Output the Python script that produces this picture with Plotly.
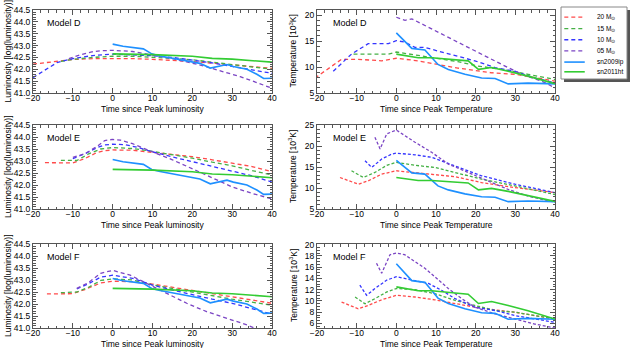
import plotly.graph_objects as go

# observed curves (same in every panel)
t_lum_09ip = [0, 2.6, 7.7, 9.8, 11.9, 16.1, 18.6, 21.9, 24.5, 26.1, 28.7, 30.3, 33.7, 36.2, 37.9, 40]
lum_09ip = [43.06, 42.97, 42.86, 42.65, 42.56, 42.44, 42.37, 42.25, 42.05, 42.1, 42.2, 42.12, 42.0, 41.79, 41.61, 41.62]
t_lum_11ht = [0, 10, 20, 25, 30, 35, 40]
lum_11ht = [42.65, 42.62, 42.55, 42.46, 42.43, 42.35, 42.3]

t_tem_09ip = [0, 3.9, 7.2, 8.9, 10.5, 13.1, 17.3, 21.5, 24.9, 28.2, 33.2, 40]
tem_09ip = [16.6, 13.6, 13.3, 11.8, 10.5, 9.55, 8.6, 7.9, 7.8, 6.75, 6.9, 6.75]
t_tem_11ht = [0, 5.5, 8.9, 13.1, 18.1, 20.7, 24.0, 28.2, 33.2, 40]
tem_11ht = [12.5, 11.8, 11.8, 11.5, 11.2, 9.55, 9.9, 9.2, 8.25, 6.8]

# Model D luminosity
d_lum_20_t = [-20, -15, -10, -5, 0, 5, 10, 15, 20, 25, 30, 35, 40]
d_lum_20 = [42.22, 42.33, 42.41, 42.45, 42.46, 42.45, 42.42, 42.38, 42.33, 42.26, 42.18, 42.11, 42.04]
d_lum_15_t = [-13, -10, -5, 0, 5, 10, 15, 20, 25, 30, 35, 40]
d_lum_15 = [42.33, 42.42, 42.5, 42.55, 42.55, 42.52, 42.46, 42.4, 42.3, 42.2, 42.1, 42.0]
d_lum_10_t = [-20, -17, -14, -10, -5, 0, 5, 10, 15, 20, 25, 30, 35, 40]
d_lum_10 = [41.65, 41.95, 42.28, 42.45, 42.58, 42.64, 42.62, 42.57, 42.5, 42.4, 42.27, 42.12, 41.97, 41.83]
d_lum_05_t = [-11, -8, -5, -3, 0, 5, 10, 15, 22, 27, 32, 36, 40]
d_lum_05 = [42.45, 42.62, 42.74, 42.78, 42.8, 42.75, 42.6, 42.45, 42.18, 41.95, 41.69, 41.45, 41.2]

# Model D temperature
d_tem_20_t = [-20.5, -13.8, -9.6, -3.7, 0, 5.5, 10.5, 15.5, 24, 30, 40]
d_tem_20 = [7.9, 11.5, 11.5, 11.2, 11.7, 11.2, 10.5, 9.8, 8.9, 8.6, 7.3]
d_tem_15_t = [-10.8, -2, 0, 4.7, 8.9, 15.5, 20.6, 26.6, 33.2, 40]
d_tem_15 = [12.5, 12.5, 12.9, 12.3, 11.8, 11.05, 10.2, 9.55, 8.6, 7.6]
d_tem_10_t = [-15.9, -11.3, -7.1, -2, 0, 2.2, 4.7, 7.2, 9.7, 14.8, 19.8, 24.9, 29.9, 34.9, 40]
d_tem_10 = [9.2, 12.5, 14.5, 14.5, 15.1, 14.8, 13.8, 13.8, 13.25, 12.2, 11.2, 9.9, 9.2, 7.9, 6.95]
d_tem_05_t = [0, 2.2, 3.9, 7.2, 11.4, 16.5, 21.5, 26.6, 31.6, 36.6, 40]
d_tem_05 = [19.6, 19.0, 19.3, 18.0, 16.4, 14.4, 12.5, 10.5, 8.6, 7.3, 6.0]

# Model E luminosity
e_lum_20_t = [-17, -14, -10, -7, -4, -2, 0, 5, 10, 15, 20, 25, 30, 35, 40]
e_lum_20 = [42.93, 42.92, 42.92, 43.1, 43.35, 43.43, 43.46, 43.45, 43.37, 43.28, 43.18, 43.05, 42.92, 42.77, 42.56]
e_lum_15_t = [-13, -9, -6, -3, 0, 5, 10, 15, 20, 25, 30, 35, 40]
e_lum_15 = [43.03, 43.02, 43.3, 43.5, 43.56, 43.52, 43.4, 43.27, 43.12, 42.95, 42.8, 42.6, 42.42]
e_lum_10_t = [-10, -7, -4, -2, 0, 3, 6, 10, 15, 20, 25, 30, 35, 40]
e_lum_10 = [43.1, 43.3, 43.55, 43.67, 43.7, 43.68, 43.58, 43.38, 43.17, 42.98, 42.78, 42.6, 42.38, 42.12]
e_lum_05_t = [-10, -7, -4, -2, 0, 2, 5, 8, 10, 15, 20, 25, 30, 35, 40]
e_lum_05 = [43.15, 43.3, 43.6, 43.85, 43.9, 43.87, 43.72, 43.5, 43.38, 43.05, 42.69, 42.3, 41.92, 41.65, 41.42]

# Model E temperature
e_tem_20_t = [-14.2, -9.6, -7.1, -3.7, 0, 4.7, 9.7, 14.8, 21.5, 29.9, 40]
e_tem_20 = [12.5, 10.9, 11.7, 13.3, 14.1, 13.7, 13.3, 12.7, 11.3, 10.1, 8.9]
e_tem_15_t = [-11.3, -8.3, -5.4, -2.4, 0, 4.7, 9.7, 14.8, 21.5, 29.9, 40]
e_tem_15 = [14.1, 12.5, 13.7, 15.4, 16.1, 15.4, 14.9, 13.7, 12.1, 10.5, 8.45]
e_tem_10_t = [-7.9, -6.2, -3.7, -1.1, 0, 4.7, 8.9, 14.8, 21.5, 29.9, 40]
e_tem_10 = [16.5, 14.9, 16.9, 18.1, 18.3, 17.9, 17.3, 15.3, 12.9, 10.9, 8.9]
e_tem_05_t = [-5.4, -4.1, -2.4, 0, 4.7, 8.9, 13.1, 18.1, 23.2, 28.2, 33.3, 38.3, 40]
e_tem_05 = [22.1, 19.3, 22.9, 23.8, 20.9, 18.5, 15.7, 13.7, 11.7, 9.65, 8.05, 6.85, 6.6]

# Model F luminosity
f_lum_20_t = [-16.5, -13, -10, -7, -3, 0, 5, 10, 20, 30, 40]
f_lum_20 = [42.42, 42.42, 42.43, 42.6, 42.88, 42.95, 42.93, 42.83, 42.55, 42.3, 42.03]
f_lum_15_t = [-13, -9, -6, -3, 0, 5, 10, 20, 30, 40]
f_lum_15 = [42.47, 42.5, 42.7, 42.98, 43.05, 43.0, 42.8, 42.49, 42.2, 41.95]
f_lum_10_t = [-9, -6, -3, 0, 5, 10, 15, 20, 25, 30, 35, 40]
f_lum_10 = [42.63, 42.85, 43.12, 43.2, 43.07, 42.79, 42.58, 42.38, 42.2, 42.03, 41.82, 41.58]
f_lum_05_t = [-9, -6, -3, 0, 4.4, 8.5, 13.6, 18.6, 23.6, 28.6, 33.7, 37, 40]
f_lum_05 = [42.65, 42.9, 43.28, 43.4, 43.2, 42.86, 42.45, 42.03, 41.68, 41.4, 41.13, 40.9, 40.75]

# Model F temperature
f_tem_20_t = [-13.8, -9.6, -7.1, -3.7, 0, 4.7, 9.7, 14.8, 19.8, 24.9, 29.9, 34.9, 40]
f_tem_20 = [9.8, 8.6, 9.2, 10.2, 11.0, 10.7, 10.2, 9.5, 8.9, 8.4, 8.0, 7.4, 6.8]
f_tem_15_t = [-10.4, -7.9, -5.4, -2.4, 0, 4.7, 9.7, 14.8, 19.8, 24.9, 29.9, 34.9, 40]
f_tem_15 = [10.7, 9.5, 10.4, 11.6, 12.2, 12.0, 11.3, 10.1, 9.2, 8.3, 8.0, 7.4, 6.8]
f_tem_10_t = [-9.2, -7.5, -5.4, -2.4, 0, 3.9, 8.1, 11.4, 14.8, 19.8, 24.9, 29.9, 34.9, 40]
f_tem_10 = [12.8, 11.0, 12.2, 13.7, 14.3, 13.7, 13.1, 11.9, 10.4, 8.9, 8.3, 7.4, 6.8, 6.2]
f_tem_05_t = [-5.0, -3.7, -1.6, 0, 2.1, 4.7, 7.2, 9.7, 13.1, 16.5, 19.8, 24.9, 29.9, 34.9, 40]
f_tem_05 = [16.7, 14.9, 18.2, 18.5, 18.2, 17.0, 15.8, 14.3, 12.2, 10.4, 8.9, 7.7, 6.8, 5.9, 5.2]

legend_names = ["20 M<sub>⊙</sub>", "15 M<sub>⊙</sub>", "10 M<sub>⊙</sub>", "05 M<sub>⊙</sub>", "sn2009ip", "sn2011ht"]

RED = "#ff4a4a"
GREEN = "#45b045"
BLUE = "#3535ff"
PURPLE = "#7b45c4"
OBS_BLUE = "#1e90ff"
OBS_GREEN = "#33cc33"
model_colors = [RED, GREEN, BLUE, PURPLE]

panels = [
    ("x", "y", [(d_lum_20_t, d_lum_20), (d_lum_15_t, d_lum_15), (d_lum_10_t, d_lum_10), (d_lum_05_t, d_lum_05)], "lum", "4px,3px"),
    ("x2", "y2", [(d_tem_20_t, d_tem_20), (d_tem_15_t, d_tem_15), (d_tem_10_t, d_tem_10), (d_tem_05_t, d_tem_05)], "tem", "4px,3px"),
    ("x3", "y3", [(e_lum_20_t, e_lum_20), (e_lum_15_t, e_lum_15), (e_lum_10_t, e_lum_10), (e_lum_05_t, e_lum_05)], "lum", "4px,3px"),
    ("x4", "y4", [(e_tem_20_t, e_tem_20), (e_tem_15_t, e_tem_15), (e_tem_10_t, e_tem_10), (e_tem_05_t, e_tem_05)], "tem", "3px,2px"),
    ("x5", "y5", [(f_lum_20_t, f_lum_20), (f_lum_15_t, f_lum_15), (f_lum_10_t, f_lum_10), (f_lum_05_t, f_lum_05)], "lum", "4px,3px"),
    ("x6", "y6", [(f_tem_20_t, f_tem_20), (f_tem_15_t, f_tem_15), (f_tem_10_t, f_tem_10), (f_tem_05_t, f_tem_05)], "tem", "3px,2px"),
]

fig = go.Figure()

for xa, ya, models, kind, dash in panels:
    for (t, v), c in zip(models, model_colors):
        fig.add_trace(go.Scatter(x=t, y=v, xaxis=xa, yaxis=ya, mode="lines",
                                 line=dict(color=c, width=1.3, dash=dash), showlegend=False))
    if kind == "lum":
        obs = [(t_lum_09ip, lum_09ip, OBS_BLUE), (t_lum_11ht, lum_11ht, OBS_GREEN)]
    else:
        obs = [(t_tem_09ip, tem_09ip, OBS_BLUE), (t_tem_11ht, tem_11ht, OBS_GREEN)]
    for t, v, c in obs:
        fig.add_trace(go.Scatter(x=t, y=v, xaxis=xa, yaxis=ya, mode="lines",
                                 line=dict(color=c, width=1.6), showlegend=False))

# hand-made legend on its own little axes
leg_y = [0.86, 0.70, 0.545, 0.39, 0.235, 0.10]
leg_styles = [(RED, "4px,3px", 1.3), (GREEN, "4px,3px", 1.3), (BLUE, "4px,3px", 1.3),
              (PURPLE, "4px,3px", 1.3), (OBS_BLUE, "solid", 1.6), (OBS_GREEN, "solid", 1.6)]
for yy, (c, d, w), name in zip(leg_y, leg_styles, legend_names):
    fig.add_trace(go.Scatter(x=[0.05, 0.36], y=[yy, yy], xaxis="x7", yaxis="y7", mode="lines",
                             line=dict(color=c, dash=d, width=w), showlegend=False, hoverinfo="skip"))
    fig.add_annotation(x=0.52, y=yy, xref="x7", yref="y7", text=name, showarrow=False,
                       xanchor="left", yanchor="middle", font=dict(size=6.5, color="black"))

FONT = "Liberation Sans, Arial, sans-serif"

left_dom = [33 / 630, 272 / 630]
right_dom = [317 / 630, 555 / 630]
# plot tops / bottoms in pixels
rows_px = [(10, 93), (125, 209), (244, 328)]
row_dom = [[1 - b / 348, 1 - t / 348] for t, b in rows_px]


def xaxis(dom, anchor):
    return dict(domain=dom, anchor=anchor, range=[-20, 40], dtick=10, ticks="inside", ticklen=5,
                mirror="allticks", showline=True, linecolor="#555", linewidth=1, showgrid=False,
                zeroline=False, automargin=False, tickfont=dict(size=8.5, color="black"),
                ticklabelstandoff=-3,
                minor=dict(dtick=2, ticklen=2.5, ticks="inside", tickcolor="#555"),
                tickcolor="#555")


def yaxis(dom, rng, dtick, minor, anchor, fmt=None):
    d = dict(domain=dom, anchor=anchor, range=rng, dtick=dtick, ticks="inside", ticklen=5,
             mirror="allticks", showline=True, linecolor="#555", linewidth=1, showgrid=False,
             zeroline=False, automargin=False, tickfont=dict(size=8.5, color="black"),
             minor=dict(dtick=minor, ticklen=2.5, ticks="inside", tickcolor="#555"),
             tickcolor="#555")
    if fmt:
        d["tickformat"] = fmt
    return d


fig.update_layout(
    width=630, height=348, margin=dict(l=0, r=0, t=0, b=0, autoexpand=False),
    paper_bgcolor="white", plot_bgcolor="white",
    font=dict(family=FONT, color="black"),
    xaxis=xaxis(left_dom, "y"),
    yaxis=yaxis(row_dom[0], [41.0, 44.5], 0.5, 0.1, "x", ".1f"),
    xaxis2=xaxis(right_dom, "y2"),
    yaxis2=yaxis(row_dom[0], [5, 21], 5, 1, "x2"),
    xaxis3=xaxis(left_dom, "y3"),
    yaxis3=yaxis(row_dom[1], [41.0, 44.5], 0.5, 0.1, "x3", ".1f"),
    xaxis4=xaxis(right_dom, "y4"),
    yaxis4=yaxis(row_dom[1], [5, 25], 5, 1, "x4"),
    xaxis5=xaxis(left_dom, "y5"),
    yaxis5=yaxis(row_dom[2], [41.0, 44.5], 0.5, 0.1, "x5", ".1f"),
    xaxis6=xaxis(right_dom, "y6"),
    yaxis6=yaxis(row_dom[2], [5.2, 20.1], 2, 0.5, "x6"),
    xaxis7=dict(domain=[561 / 630, 627 / 630], anchor="y7", range=[0, 1], visible=False, fixedrange=True),
    yaxis7=dict(domain=[1 - 79 / 348, 1 - 7 / 348], anchor="x7", range=[0, 1], visible=False, fixedrange=True),
    showlegend=False,
)

# legend frame with drop shadow
fig.add_shape(type="rect", xref="paper", yref="paper", x0=564 / 630, x1=630 / 630,
              y0=1 - 82 / 348, y1=1 - 10 / 348, fillcolor="#555", line=dict(width=0), layer="below")
fig.add_shape(type="rect", xref="paper", yref="paper", x0=561 / 630, x1=627 / 630,
              y0=1 - 79 / 348, y1=1 - 7 / 348, fillcolor="white", line=dict(color="#888", width=1), layer="below")

# panel labels
for xa, name, xpos in [("x", "Model D", 0.05), ("x2", "Model D", 0.06), ("x3", "Model E", 0.05),
                       ("x4", "Model E", 0.06), ("x5", "Model F", 0.05), ("x6", "Model F", 0.06)]:
    ya = xa.replace("x", "y")
    fig.add_annotation(x=xpos, y=0.84, xref=xa + " domain", yref=ya + " domain", text=name,
                       showarrow=False, xanchor="left", yanchor="middle", font=dict(size=9, color="black"))

# axis titles
for t, b in rows_px:
    mid = 1 - (t + b) / 2 / 348
    fig.add_annotation(x=8 / 630, y=mid, xref="paper", yref="paper", text="Luminosity [log(luminosity)]",
                       textangle=-90, showarrow=False, xanchor="center", yanchor="middle",
                       font=dict(size=8.5, color="black"))
    fig.add_annotation(x=293 / 630, y=mid, xref="paper", yref="paper", text="Temperature [10<sup>3</sup>K]",
                       textangle=-90, showarrow=False, xanchor="center", yanchor="middle",
                       font=dict(size=8.5, color="black"))
    ty = 1 - (b + 16) / 348
    fig.add_annotation(x=(33 + 272) / 2 / 630, y=ty, xref="paper", yref="paper", text="Time since Peak luminosity",
                       showarrow=False, xanchor="center", yanchor="middle", font=dict(size=8.5, color="black"))
    fig.add_annotation(x=(317 + 555) / 2 / 630, y=ty, xref="paper", yref="paper", text="Time since Peak Temperature",
                       showarrow=False, xanchor="center", yanchor="middle", font=dict(size=8.5, color="black"))

# drop the browser's default body margin so the figure sits at the page corner
fig.write_html("out.html", config={"displayModeBar": False},
               post_script="document.body.style.margin='0';")
